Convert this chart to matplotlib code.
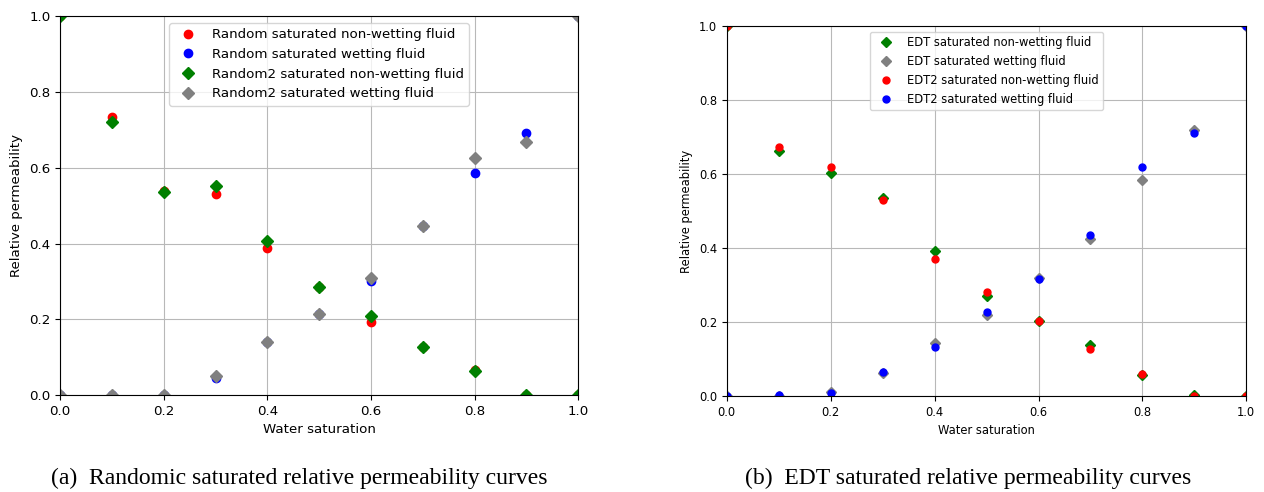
import matplotlib.pyplot as plt

sw = [0.0, 0.1, 0.2, 0.3, 0.4, 0.5, 0.6, 0.7, 0.8, 0.9, 1.0]

# left panel: random media
rand_nw = [1.0, 0.735, 0.540, 0.530, 0.388, 0.285, 0.193, 0.127, 0.065, 0.0, 0.0]
rand_w = [0.0, 0.0, 0.0, 0.045, 0.140, 0.215, 0.300, 0.447, 0.585, 0.692, 1.0]
rand2_nw = [1.0, 0.720, 0.537, 0.552, 0.408, 0.285, 0.208, 0.127, 0.063, 0.0, 0.0]
rand2_w = [0.0, 0.0, 0.0, 0.050, 0.140, 0.213, 0.310, 0.447, 0.627, 0.668, 1.0]

# right panel: EDT media
edt_nw = [1.0, 0.663, 0.603, 0.535, 0.392, 0.270, 0.202, 0.137, 0.057, 0.002, 0.0]
edt_w = [0.0, 0.0, 0.012, 0.062, 0.143, 0.218, 0.320, 0.424, 0.585, 0.720, 1.0]
edt2_nw = [1.0, 0.672, 0.620, 0.530, 0.370, 0.280, 0.202, 0.128, 0.060, 0.0, 0.0]
edt2_w = [0.0, 0.002, 0.008, 0.065, 0.132, 0.227, 0.317, 0.436, 0.618, 0.712, 1.0]

fig = plt.figure(figsize=(12.64, 4.92), dpi=100)

fs1 = 9.6
ax1 = fig.add_axes([0.0475, 0.197, 0.410, 0.770])
ax1.plot(sw, rand_nw, 'o', color='red', ms=6, label='Random saturated non-wetting fluid')
ax1.plot(sw, rand_w, 'o', color='blue', ms=6, label='Random saturated wetting fluid')
ax1.plot(sw, rand2_nw, 'D', color='green', ms=6, label='Random2 saturated non-wetting fluid')
ax1.plot(sw, rand2_w, 'D', color='gray', ms=6, label='Random2 saturated wetting fluid')
ax1.set_xlim(0, 1)
ax1.set_ylim(0, 1)
ax1.grid(True, color='#b8b8b8', lw=0.8)
ax1.set_xlabel('Water saturation', fontsize=fs1)
ax1.set_ylabel('Relative permeability', fontsize=fs1)
ax1.tick_params(labelsize=fs1)
ax1.legend(loc='upper center', fontsize=fs1)

fs2 = 8.3
ax2 = fig.add_axes([0.575, 0.195, 0.411, 0.752])
ax2.plot(sw, edt_nw, 'D', color='green', ms=5, label='EDT saturated non-wetting fluid')
ax2.plot(sw, edt_w, 'D', color='gray', ms=5, label='EDT saturated wetting fluid')
ax2.plot(sw, edt2_nw, 'o', color='red', ms=5, label='EDT2 saturated non-wetting fluid')
ax2.plot(sw, edt2_w, 'o', color='blue', ms=5, label='EDT2 saturated wetting fluid')
ax2.set_xlim(0, 1)
ax2.set_ylim(0, 1)
ax2.grid(True, color='#b8b8b8', lw=0.8)
ax2.set_xlabel('Water saturation', fontsize=fs2)
ax2.set_ylabel('Relative permeability', fontsize=fs2)
ax2.tick_params(labelsize=fs2)
ax2.legend(loc='upper center', fontsize=fs2)

fig.text(0.2365, 0.028, '(a)  Randomic saturated relative permeability curves',
         ha='center', va='center', family='Liberation Serif', fontsize=17)
fig.text(0.766, 0.028, '(b)  EDT saturated relative permeability curves',
         ha='center', va='center', family='Liberation Serif', fontsize=17)

fig.savefig('out.png', dpi=100)
